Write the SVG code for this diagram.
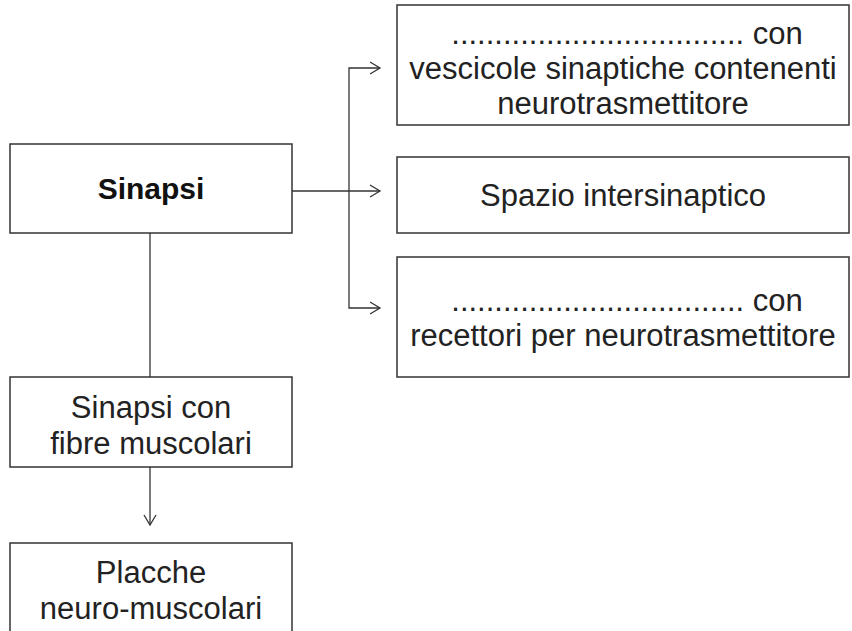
<svg xmlns="http://www.w3.org/2000/svg" width="852" height="631" viewBox="0 0 852 631">
<style>
.box{fill:#fff;stroke:#333;stroke-width:1.5}
.t{font-family:"Liberation Sans",Arial,sans-serif;font-size:31px;fill:#222;text-anchor:middle}
.b{font-weight:bold;font-size:30px;fill:#111}
.c{fill:none;stroke:#333;stroke-width:1.3}
</style>
<defs>
<marker id="arr" markerUnits="userSpaceOnUse" markerWidth="14" markerHeight="16" refX="11" refY="7" orient="auto" viewBox="0 0 14 14">
<path d="M1,1 L11,7 L1,13" fill="none" stroke="#333" stroke-width="1.3"/>
</marker>
</defs>
<rect width="852" height="631" fill="#fff"/>
<g id="connectors">
<path class="c" d="M292,191 H380" marker-end="url(#arr)"/>
<path class="c" d="M349,191 V68 H380" marker-end="url(#arr)"/>
<path class="c" d="M349,191 V308 H380" marker-end="url(#arr)"/>
<path class="c" d="M150,233 V377"/>
<path class="c" d="M150,467 V525" marker-end="url(#arr)"/>
</g>
<g id="sinapsi">
<rect class="box" x="10" y="144" width="282" height="89"/>
<text class="t b" x="151" y="199">Sinapsi</text>
</g>
<g id="presinaptico">
<rect class="box" x="397" y="5" width="452" height="120"/>
<text class="t" x="627" y="44">.................................. con</text>
<text class="t" x="623" y="79">vescicole sinaptiche contenenti</text>
<text class="t" x="623" y="114">neurotrasmettitore</text>
</g>
<g id="spazio">
<rect class="box" x="397" y="157" width="452" height="76"/>
<text class="t" x="623" y="206">Spazio intersinaptico</text>
</g>
<g id="postsinaptico">
<rect class="box" x="397" y="257" width="452" height="120"/>
<text class="t" x="627" y="311">.................................. con</text>
<text class="t" x="623" y="346">recettori per neurotrasmettitore</text>
</g>
<g id="fibre">
<rect class="box" x="10" y="377" width="282" height="90"/>
<text class="t" x="151" y="418">Sinapsi con</text>
<text class="t" x="151" y="454">fibre muscolari</text>
</g>
<g id="placche">
<rect class="box" x="10" y="543" width="282" height="100"/>
<text class="t" x="151" y="583">Placche</text>
<text class="t" x="151" y="619">neuro-muscolari</text>
</g>
</svg>
